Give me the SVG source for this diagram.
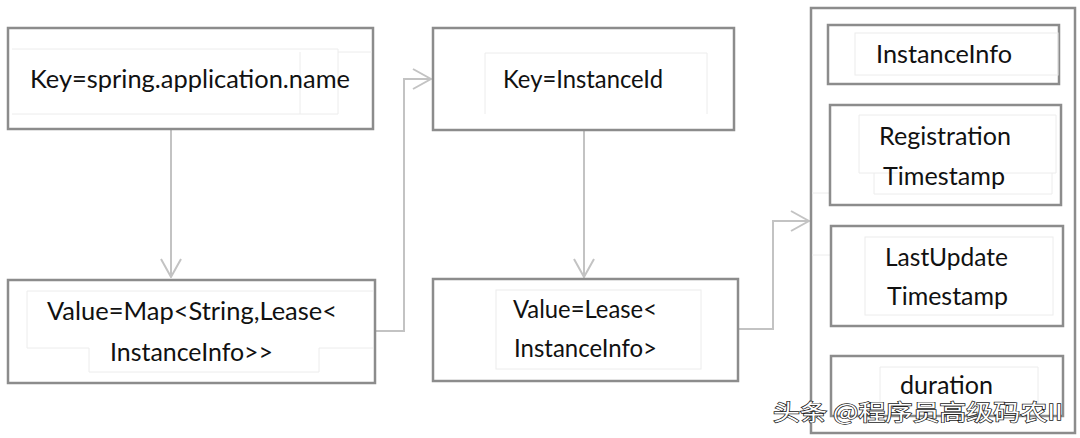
<svg xmlns="http://www.w3.org/2000/svg" width="1080" height="438" viewBox="0 0 1080 438">
<defs>
<style>
.box{fill:#fff;stroke:#8c8c8c;stroke-width:2.5}
.faint{fill:none;stroke:#ececec;stroke-width:1}
.conn{fill:none;stroke:#c3c3c3;stroke-width:2}
.t{font-family:Lato,"Open Sans","Liberation Sans",sans-serif;font-size:25px;fill:#111}
.wm{font-family:"Noto Sans CJK SC","Liberation Sans",sans-serif;font-size:22px;fill:#fff;stroke:#222;stroke-width:1.4;paint-order:stroke}
</style>
<marker id="arr" viewBox="0 0 20 24" refX="19" refY="12" markerWidth="20" markerHeight="24" markerUnits="userSpaceOnUse" orient="auto">
<path d="M1,2 L19,12 L1,22" fill="none" stroke="#c3c3c3" stroke-width="2"/>
</marker>
</defs>
<rect width="1080" height="438" fill="#fff"/>

<g id="connectors">
<path class="conn" d="M171,130 V277" marker-end="url(#arr)"/>
<path class="conn" d="M376,331 H404 V79 H431" marker-end="url(#arr)"/>
<path class="conn" d="M584,131 V277" marker-end="url(#arr)"/>
<path class="conn" d="M739,329 H773 V221 H809" marker-end="url(#arr)"/>
</g>

<g id="node-key-appname">
<rect class="box" x="8" y="28" width="365" height="101"/>
<path class="faint" d="M12,49 H338 V114 H12 M338,52 H372 M300,52 V114"/>
<text class="t" x="30" y="88" textLength="320" lengthAdjust="spacingAndGlyphs">Key=spring.application.name</text>
</g>

<g id="node-value-map">
<rect class="box" x="8" y="280" width="367" height="103"/>
<path class="faint" d="M373,291 H27 V348 H89 V372 H319 V348 H373"/>
<text class="t" x="47" y="320" textLength="290" lengthAdjust="spacingAndGlyphs">Value=Map&lt;String,Lease&lt;</text>
<text class="t" x="110" y="361" textLength="163" lengthAdjust="spacingAndGlyphs">InstanceInfo&gt;&gt;</text>
</g>

<g id="node-key-instanceid">
<rect class="box" x="433" y="28" width="301" height="102"/>
<path class="faint" d="M485,114 V53 H707 V114"/>
<text class="t" x="503" y="88" textLength="160" lengthAdjust="spacingAndGlyphs">Key=InstanceId</text>
</g>

<g id="node-value-lease">
<rect class="box" x="433" y="279" width="305" height="102"/>
<rect class="faint" x="496" y="290" width="205" height="79"/>
<text class="t" x="513" y="318" textLength="144" lengthAdjust="spacingAndGlyphs">Value=Lease&lt;</text>
<text class="t" x="514" y="357" textLength="143" lengthAdjust="spacingAndGlyphs">InstanceInfo&gt;</text>
</g>

<g id="node-lease">
<rect class="box" x="811" y="8" width="264" height="425"/>
<path class="faint" d="M812,193 H875 M812,255 H865 V300"/>
<g id="field-instanceinfo">
<rect class="box" x="828" y="25" width="231" height="59"/>
<rect class="faint" x="855" y="33" width="203" height="42"/>
<text class="t" x="876" y="63" textLength="136" lengthAdjust="spacingAndGlyphs">InstanceInfo</text>
</g>
<g id="field-registration">
<rect class="box" x="830" y="105" width="231" height="100"/>
<path class="faint" d="M859,173 V115 H1056 V173 H859 M874,173 V194 H1052 V173"/>
<text class="t" x="879" y="145" textLength="132" lengthAdjust="spacingAndGlyphs">Registration</text>
<text class="t" x="883" y="185" textLength="122" lengthAdjust="spacingAndGlyphs">Timestamp</text>
</g>
<g id="field-lastupdate">
<rect class="box" x="831" y="226" width="232" height="100"/>
<rect class="faint" x="865" y="237" width="188" height="78"/>
<text class="t" x="885" y="266" textLength="123" lengthAdjust="spacingAndGlyphs">LastUpdate</text>
<text class="t" x="887" y="305" textLength="121" lengthAdjust="spacingAndGlyphs">Timestamp</text>
</g>
<g id="field-duration">
<rect class="box" x="831" y="356" width="232" height="60"/>
<path class="faint" d="M880,410 V367 H1038 V410"/>
<text class="t" x="900" y="394" textLength="93" lengthAdjust="spacingAndGlyphs">duration</text>
</g>
</g>

<text class="wm" x="773" y="420" textLength="290" lengthAdjust="spacingAndGlyphs">头条 @程序员高级码农II</text>
</svg>
